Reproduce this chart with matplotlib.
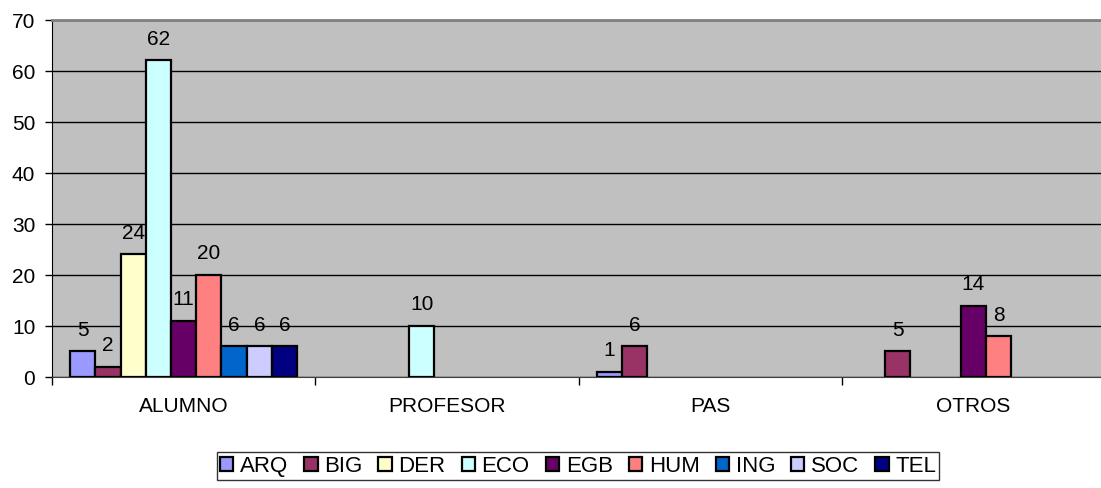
import matplotlib
matplotlib.use('Agg')
import matplotlib.pyplot as plt
import numpy as np

plt.rcParams['font.family'] = ['Liberation Sans', 'DejaVu Sans']

categories = ['ALUMNO', 'PROFESOR', 'PAS', 'OTROS']
series = ['ARQ', 'BIG', 'DER', 'ECO', 'EGB', 'HUM', 'ING', 'SOC', 'TEL']
values = {
    'ARQ': [5, 0, 1, 0],
    'BIG': [2, 0, 6, 5],
    'DER': [24, 0, 0, 0],
    'ECO': [62, 10, 0, 0],
    'EGB': [11, 0, 0, 14],
    'HUM': [20, 0, 0, 8],
    'ING': [6, 0, 0, 0],
    'SOC': [6, 0, 0, 0],
    'TEL': [6, 0, 0, 0],
}
colors = ['#9999FF', '#993366', '#FFFFCC', '#CCFFFF', '#660066',
          '#FF8080', '#0066CC', '#CCCCFF', '#000080']

fs = 15

fig = plt.figure(figsize=(11.01, 4.89), dpi=100)
ax = fig.add_axes([52 / 1101, 111 / 489, 1053 / 1101, 357.5 / 489])
ax.set_facecolor('#C0C0C0')

n = len(series)
bw = 0.0959
x = np.arange(len(categories))
handles = []
for i, (name, col) in enumerate(zip(series, colors)):
    vals = np.array(values[name], dtype=float)
    pos = x - bw * n / 2 + bw * (i + 0.5)
    mask = vals > 0
    ax.bar(pos[mask], vals[mask], width=bw, color=col, edgecolor='black',
           linewidth=1.6, zorder=3)
    for xp, v in zip(pos[mask], vals[mask]):
        ax.annotate(f'{int(v)}', (xp, v), xytext=(0, 9), textcoords='offset points',
                    ha='center', va='bottom', fontsize=fs, zorder=4)
    handles.append(plt.Rectangle((0, 0), 1, 1, facecolor=col, edgecolor='black', linewidth=1.6))

ax.set_xlim(-0.5, len(categories) - 0.5)
ax.set_ylim(0, 70)
ax.set_yticks(range(0, 71, 10))
ax.yaxis.grid(True, color='black', linewidth=1)
ax.set_axisbelow(True)
ax.tick_params(axis='y', labelsize=fs, length=5, width=1, direction='out', pad=7)

ax.set_xticks(np.arange(len(categories) + 1) - 0.5)
ax.set_xticklabels([])
ax.set_xticks(x, minor=True)
ax.set_xticklabels(categories, minor=True)
ax.tick_params(axis='x', which='major', length=6, width=1, direction='out')
ax.tick_params(axis='x', which='minor', length=0, labelsize=fs, pad=14)

ax.spines['right'].set_visible(False)
ax.spines['top'].set_color('#808080')
ax.spines['top'].set_linewidth(2)
ax.spines['left'].set_color('black')
ax.spines['bottom'].set_color('#404040')

leg = fig.legend(handles, series, loc='center', bbox_to_anchor=(578 / 1101, 1 - 467 / 489),
                 ncol=9, fontsize=16, frameon=True, fancybox=False, edgecolor='black',
                 handlelength=0.6, handleheight=0.6, handletextpad=0.3, columnspacing=0.72,
                 borderpad=0.15, borderaxespad=0)
leg.get_frame().set_linewidth(1)

fig.savefig('out.png', dpi=100)
